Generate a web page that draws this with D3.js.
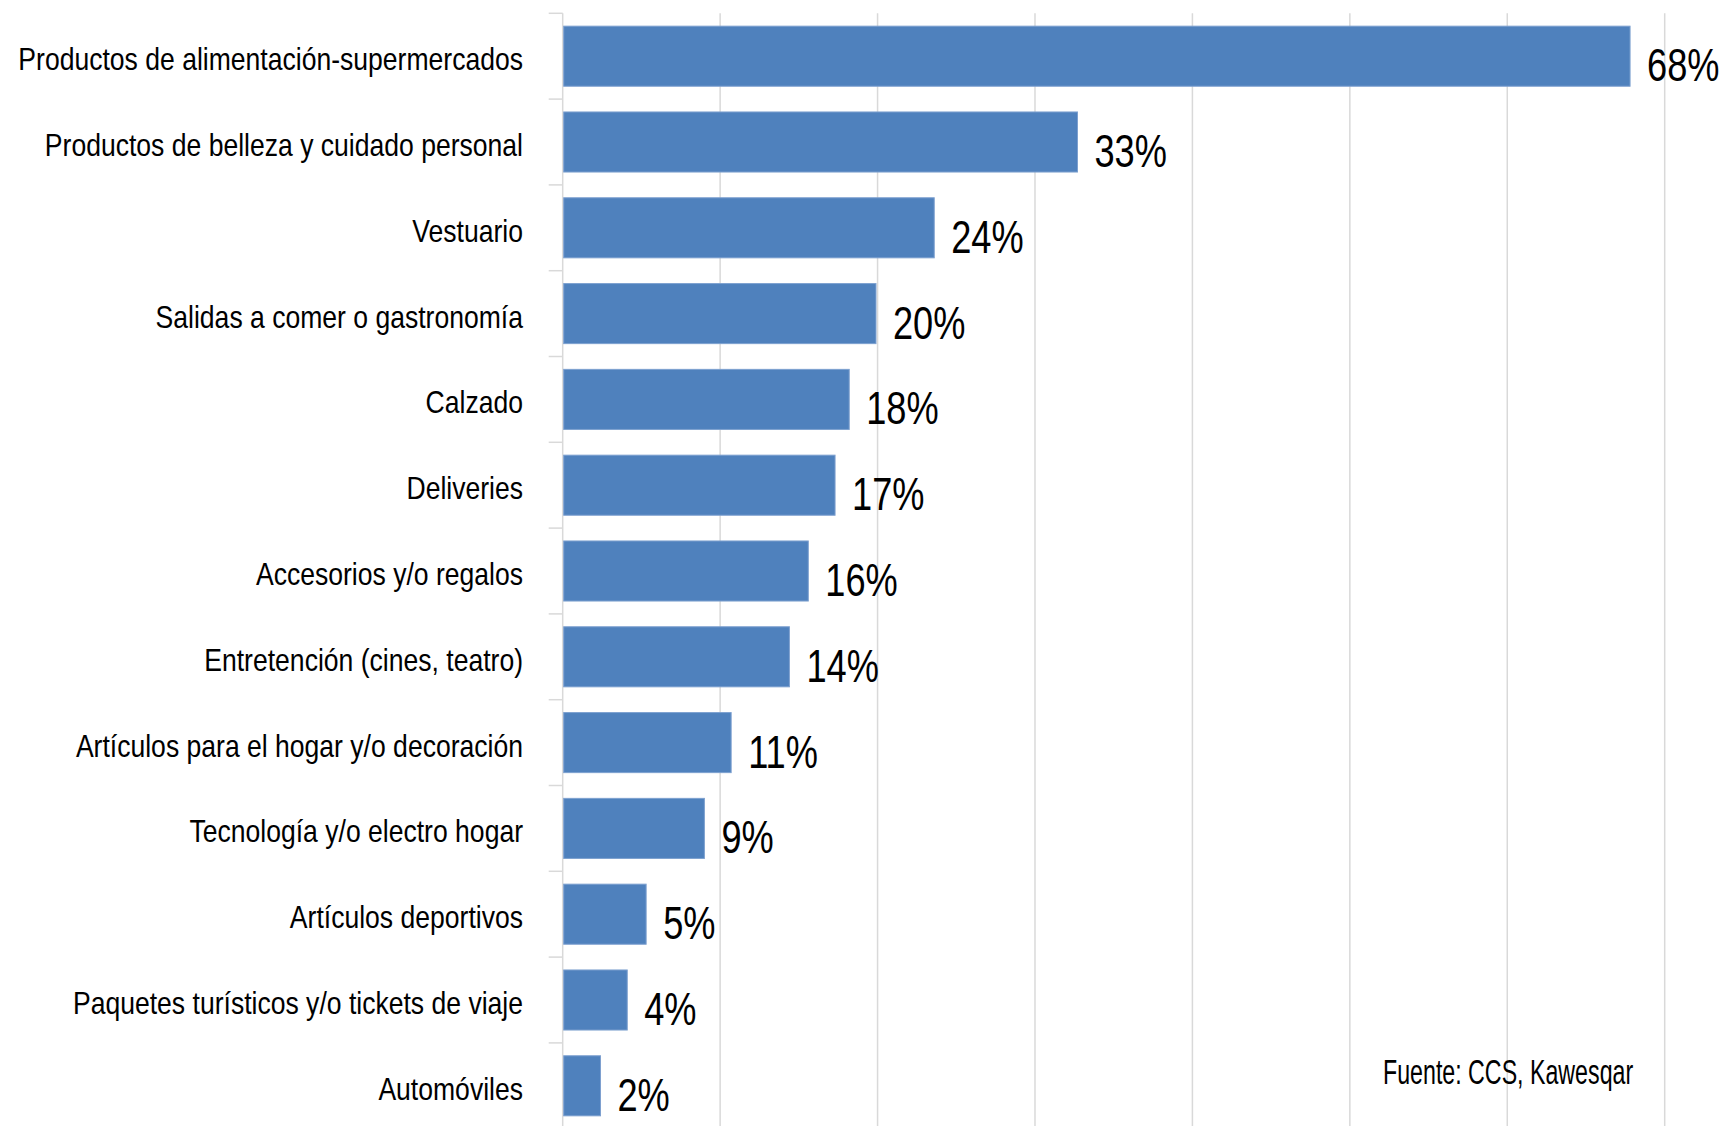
<!DOCTYPE html>
<html>
<head>
<meta charset="utf-8">
<script src="https://cdn.jsdelivr.net/npm/d3@7"></script>
<style>
  html, body { margin: 0; padding: 0; background: #ffffff; }
  svg { display: block; }
</style>
</head>
<body>
<script>
const categories = [
  "Productos de alimentación-supermercados",
  "Productos de belleza y cuidado personal",
  "Vestuario",
  "Salidas a comer o gastronomía",
  "Calzado",
  "Deliveries",
  "Accesorios y/o regalos",
  "Entretención (cines, teatro)",
  "Artículos para el hogar y/o decoración",
  "Tecnología y/o electro hogar",
  "Artículos deportivos",
  "Paquetes turísticos y/o tickets de viaje",
  "Automóviles"
];
const values = [0.678, 0.327, 0.236, 0.199, 0.182, 0.173, 0.156, 0.144, 0.107, 0.090, 0.053, 0.041, 0.024];
const xTicks = [0, 0.1, 0.2, 0.3, 0.4, 0.5, 0.6, 0.7];
const sourceText = "Fuente: CCS, Kawesqar";

const W = 1727, H = 1126;
const svg = d3.select("body").append("svg").attr("width", W).attr("height", H);

const x = d3.scaleLinear().domain([0, 0.7]).range([562.7, 1664.7]);
const y = d3.scaleBand().domain(categories).range([13.3, 1128.7])
  .paddingInner(0.3).paddingOuter(0.15);

const gridColor = "#d9d9d9";

// vertical gridlines
svg.append("g").selectAll("line").data(xTicks).join("line")
  .attr("x1", d => x(d)).attr("x2", d => x(d))
  .attr("y1", y.range()[0]).attr("y2", H)
  .attr("stroke", gridColor).attr("stroke-width", 1.5);

// category boundary ticks
const half = y.step() * y.paddingInner() / 2;
const bounds = categories.map(c => y(c) - half).concat([y(categories[categories.length - 1]) + y.bandwidth() + half]);
svg.append("g").selectAll("line").data(bounds).join("line")
  .attr("x1", x(0) - 14).attr("x2", x(0))
  .attr("y1", d => d).attr("y2", d => d)
  .attr("stroke", gridColor).attr("stroke-width", 1.5);

// bars
svg.append("g").selectAll("rect").data(values).join("rect")
  .attr("x", x(0) + 1)
  .attr("y", (d, i) => y(categories[i]))
  .attr("width", d => x(d) - x(0) - 1)
  .attr("height", y.bandwidth())
  .attr("fill", "#4f81bd")
  .attr("stroke", "#7da0cf").attr("stroke-width", 1);

// category labels
svg.append("g").selectAll("text").data(categories).join("text")
  .attr("transform", d => `translate(523,${y(d) + y.bandwidth() / 2 + 14}) scale(0.83,1)`)
  .attr("text-anchor", "end")
  .attr("font-family", "'Liberation Sans', Arial, sans-serif")
  .attr("font-size", 32)
  .attr("fill", "#000")
  .text(d => d);

// value labels
const fmt = d3.format(".0%");
svg.append("g").selectAll("text").data(values).join("text")
  .attr("transform", (d, i) => `translate(${x(d) + 17},${y(categories[i]) + y.bandwidth() / 2 + 25}) scale(0.77,1)`)
  .attr("font-family", "'Liberation Sans', Arial, sans-serif")
  .attr("font-size", 47)
  .attr("fill", "#000")
  .text(d => fmt(d));

// source
svg.append("text")
  .attr("transform", "translate(1383,1084.3) scale(0.663,1)")
  .attr("font-family", "'Liberation Sans', Arial, sans-serif")
  .attr("font-size", 35)
  .attr("fill", "#000")
  .text(sourceText);
</script>
</body>
</html>
